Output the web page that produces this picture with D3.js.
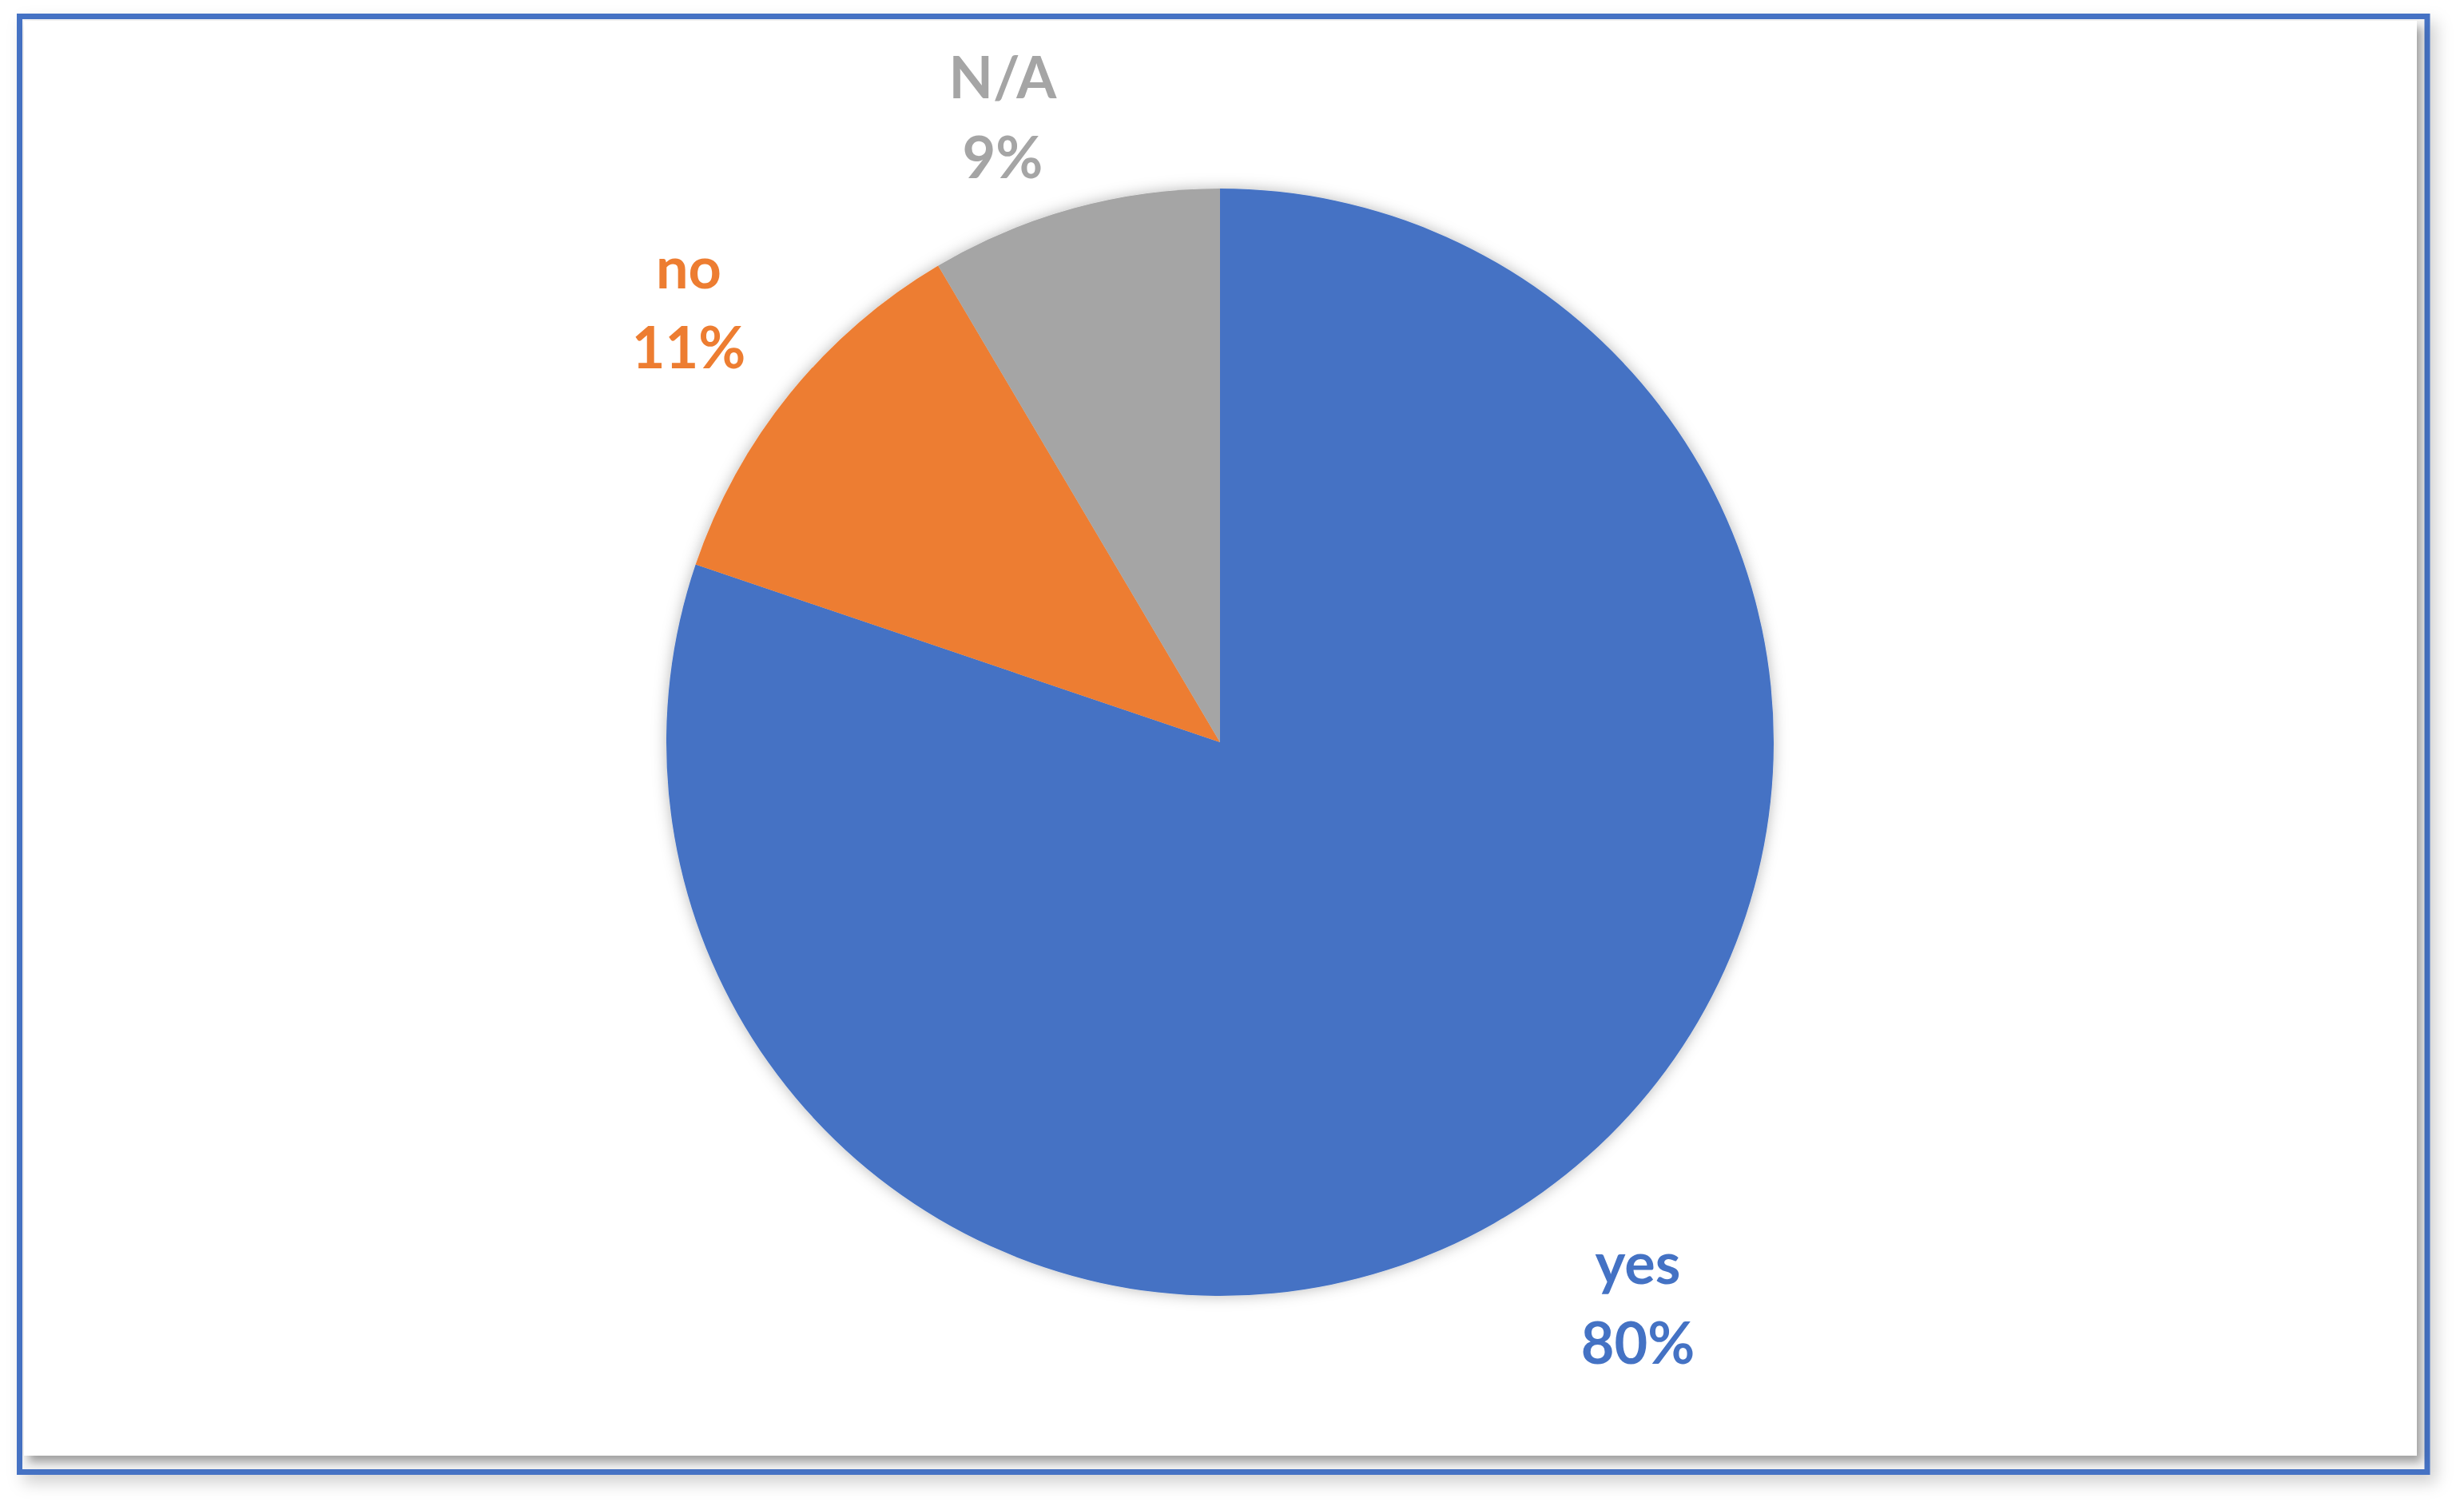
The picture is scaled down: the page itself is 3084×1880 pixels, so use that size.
<!DOCTYPE html>
<html>
<head>
<meta charset="utf-8">
<script src="https://cdn.jsdelivr.net/npm/d3@7"></script>
<style>
  html, body { margin: 0; padding: 0; background: #ffffff; }
  svg { display: block; }
</style>
</head>
<body>
<script>
// ---- data ----
const categories = ["yes", "no", "N/A"];
const values = [80.2, 11.3, 8.5];
const colors = ["#4472C4", "#ED7D31", "#A5A5A5"];

const W = 3084, H = 1880;
const svg = d3.select("body").append("svg").attr("width", W).attr("height", H);
const defs = svg.append("defs");

const f1 = defs.append("filter").attr("id", "outerShadow")
  .attr("x", "-5%").attr("y", "-5%").attr("width", "110%").attr("height", "110%");
f1.append("feDropShadow").attr("dx", 8).attr("dy", 10).attr("stdDeviation", 10)
  .attr("flood-color", "#000").attr("flood-opacity", 0.18);

const f2 = defs.append("filter").attr("id", "panelShadow")
  .attr("x", "-5%").attr("y", "-5%").attr("width", "110%").attr("height", "110%");
f2.append("feDropShadow").attr("dx", 6).attr("dy", 8).attr("stdDeviation", 6)
  .attr("flood-color", "#000").attr("flood-opacity", 0.35);

const f3 = defs.append("filter").attr("id", "pieShadow")
  .attr("x", "-10%").attr("y", "-10%").attr("width", "120%").attr("height", "120%");
f3.append("feDropShadow").attr("dx", 0).attr("dy", 0).attr("stdDeviation", 9)
  .attr("flood-color", "#000").attr("flood-opacity", 0.28);

// outer blue frame
svg.append("rect")
  .attr("x", 24.5).attr("y", 20.5).attr("width", 3038 - 24.5).attr("height", 1842.5 - 20.5)
  .attr("fill", "#f4f4f4").attr("stroke", "#4472C4").attr("stroke-width", 7)
  .attr("filter", "url(#outerShadow)");

// inner white panel
svg.append("rect")
  .attr("x", 30).attr("y", 26).attr("width", 3025 - 30).attr("height", 1822 - 26)
  .attr("fill", "#ffffff").attr("filter", "url(#panelShadow)");

// ---- pie ----
const cx = 1527, cy = 929, r = 693;
const pie = d3.pie().sort(null).value(d => d)(values);
const arc = d3.arc().innerRadius(0).outerRadius(r);

const g = svg.append("g").attr("transform", `translate(${cx},${cy})`)
  .attr("filter", "url(#pieShadow)");
g.selectAll("path").data(pie).join("path")
  .attr("d", arc)
  .attr("fill", (d, i) => colors[i]);

// ---- labels ----
const labelPos = [[2050, 1582], [862, 336], [1255, 98]];
const labels = svg.append("g");
pie.forEach((d, i) => {
  const t = labels.append("text")
    .attr("x", labelPos[i][0]).attr("y", labelPos[i][1])
    .attr("text-anchor", "middle")
    .attr("font-family", "Lato, 'Open Sans', sans-serif")
    .attr("font-weight", "bold")
    .attr("font-size", 72)
    .attr("fill", colors[i]);
  t.append("tspan").attr("x", labelPos[i][0]).attr("dy", "0.35em").text(categories[i]);
  t.append("tspan").attr("x", labelPos[i][0]).attr("dy", 100)
    .text(Math.round(values[i]) + "%");
});
</script>
</body>
</html>
